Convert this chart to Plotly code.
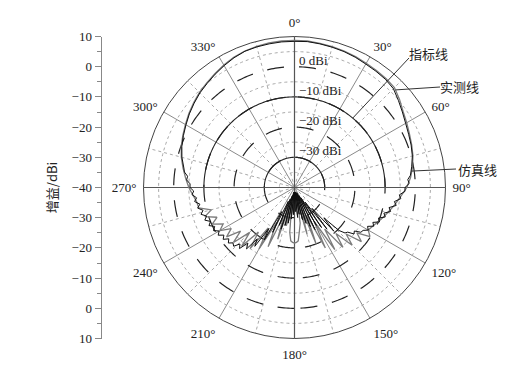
import numpy as np
import plotly.graph_objects as go

# ---------------- data ----------------
sim_theta = [0, 5, 10, 15, 20, 25, 30, 35, 40, 45, 50, 55, 60, 65, 70, 75, 80, 84, 86, 88, 90,
             92, 94, 96, 98, 100, 102, 104, 106, 108, 110, 112, 114, 116, 118, 120, 122, 124, 126, 128, 130, 132, 134,
             136, 138, 140, 142, 144, 146, 148, 150, 152, 154, 156, 158, 160, 162, 164, 166, 168, 170, 172, 174, 176,
             178, 180, 182, 184, 186, 188, 190, 192, 194, 196, 198, 200, 202, 204, 206, 208, 210, 212, 214, 216, 218,
             220, 222, 224, 226, 228, 230, 232, 234, 236, 238, 240, 242, 244, 246, 248, 250, 252, 254, 256, 258, 260,
             262, 264, 266, 268, 270, 272, 274, 276, 278, 280, 285, 290, 295, 300, 305, 310, 315, 320, 325, 330, 335,
             340, 345, 350, 355, 360]
sim_gain = [8.4, 8.5, 8.3, 8.1, 7.9, 7.6, 7.2, 7.0, 6.8, 6.3, 4.9, 3.6, 2.5, 1.7, 1.1, 0.4, -0.6, -1.4, -2.4, -2.0, -3.4,
            -3.4, -5.2, -4.6, -6.6, -5.8, -8.0, -7.2, -9.2, -8.4, -10.4, -9.6, -11.6, -10.8, -12.6, -11.8, -13.2, -13.5, -15.5, -15.0, -17.0, -17.5, -19.5,
            -26, -20.5, -31, -22.5, -34, -24, -36, -25.5, -37, -24.5, -38, -26, -37.5, -27.5, -38.5, -29, -38, -31, -38.5, -30, -38,
            -32, -38.5, -31, -38, -29.5, -38.5, -28, -37.5, -27, -37, -25.5, -36, -26.5, -35, -23.5, -31, -20, -24, -16.5, -19, -14.2,
            -16, -12.8, -14, -12.0, -12.6, -11.4, -12.4, -10.8, -11.8, -10.2, -11.2, -9.6, -10.6, -9.0, -10.0, -8.4, -9.4, -7.8, -8.8, -7.2, -8.2,
            -6.6, -7.4, -6.0, -6.6, -5.4, -5.4, -4.2, -4.4, -3.2, -2.8, -1.4, -0.3, 0.6, 1.5, 2.5, 3.4, 4.3, 5.0, 5.8, 6.6, 7.4,
            8.0, 8.2, 8.3, 8.4, 8.4]

meas_theta = [0, 5, 10, 15, 20, 25, 30, 35, 40, 45, 50, 55, 60, 65, 70, 75, 80, 85, 90, 95, 100, 105, 110, 115, 120,
              123, 126, 129, 132, 135, 138, 141, 144, 147, 150, 153, 156, 159, 162, 165, 168, 171, 174, 176, 178, 180,
              182, 184, 186, 189, 192, 195, 198, 201, 204, 207, 210, 213, 216, 219, 222, 225, 228, 231, 234, 237, 240,
              243, 246, 249, 252, 255, 258, 262, 266, 270, 275, 280, 285, 290, 295, 300, 305, 310, 315, 320, 325, 330,
              335, 340, 345, 350, 355, 360]
meas_gain = [8.7, 8.7, 8.5, 8.3, 8.1, 7.8, 7.5, 7.3, 7.1, 6.8, 5.4, 3.9, 2.9, 2.0, 1.3, 0.6, -0.3, -1.4, -2.8, -4.8, -6.4, -8.0, -9.4, -10.8, -11.8,
             -10.2, -14.5, -11.5, -17, -13.0, -19.5, -14.5, -23, -15.5, -27, -17.5, -30, -20, -33, -24, -35, -28, -25, -22.3, -21.8, -21.6,
             -21.8, -22.3, -25, -34, -27, -33, -22, -30, -18.5, -27, -16.5, -24, -15, -21, -13.8, -19, -12.8, -17, -12.2, -15, -11.5,
             -13.5, -10.2, -12.5, -8.8, -11.5, -7.6, -7.2, -6.2, -5.0, -3.8, -2.5, -1.2, -0.1, 0.8, 1.7, 2.7, 3.6, 4.5, 5.2, 6.0, 6.8,
             7.6, 8.1, 8.4, 8.6, 8.7, 8.7]

angle_ticks = list(range(0, 360, 30))
angle_labels = [f"{a}°" for a in angle_ticks]
major_levels = [-30, -20, -10, 0]          # black long-dash rings
minor_levels = [-35, -25, -15, -5, 5]      # grey short-dash rings
spec_levels = [-10, -30]                   # solid front-half rings (指标线)
level_labels = ["−30 dBi", "−20 dBi", "−10 dBi", "0 dBi"]
sub_spokes = list(range(15, 360, 30))      # grey dashed spokes
left_vals = list(range(-50, 51, 10))
left_text = [str(-40 + abs(v)).replace("-", "−") for v in left_vals]
left_minor = list(range(-45, 50, 10))

R_MIN, R_MAX = -40, 10

# ---------------- geometry ----------------
W, H = 518, 371
CX, CY, RAD = 294.5, 187.5, 151.0
dom_x = [(CX - RAD) / W, (CX + RAD) / W]
dom_y = [1 - (CY + RAD) / H, 1 - (CY - RAD) / H]


def to_paper(theta, r):
    rr = (r - R_MIN) / (R_MAX - R_MIN) * RAD
    t = np.radians(theta)
    return (CX + rr * np.sin(t)) / W, 1 - (CY - rr * np.cos(t)) / H


SERIF = "Liberation Serif, Times New Roman, serif"
CJK = "Noto Sans CJK SC, sans-serif"

fig = go.Figure()
full = np.arange(0, 361, 1)
front = np.arange(-90, 91, 1)

for lv in minor_levels:
    fig.add_trace(go.Scatterpolar(r=[lv] * len(full), theta=full, mode="lines",
                                  line=dict(color="#a8a8a8", width=1, dash="3px,3px"), hoverinfo="skip"))
for a in sub_spokes:
    fig.add_trace(go.Scatterpolar(r=[R_MIN, R_MAX], theta=[a, a], mode="lines",
                                  line=dict(color="#a8a8a8", width=1, dash="3px,3px"), hoverinfo="skip"))
for lv in major_levels:
    fig.add_trace(go.Scatterpolar(r=[lv] * len(full), theta=full + 180, mode="lines",
                                  line=dict(color="#222222", width=1.2, dash="17px,15px"), hoverinfo="skip"))
for lv in spec_levels:
    fig.add_trace(go.Scatterpolar(r=[lv] * len(front), theta=front, mode="lines",
                                  line=dict(color="#222222", width=1.1), hoverinfo="skip"))
# main cross axes
fig.add_trace(go.Scatterpolar(r=[R_MAX, R_MIN, R_MAX], theta=[0, 0, 180], mode="lines",
                              line=dict(color="#555555", width=1.2), hoverinfo="skip"))
fig.add_trace(go.Scatterpolar(r=[R_MAX, R_MIN, R_MAX], theta=[90, 90, 270], mode="lines",
                              line=dict(color="#555555", width=1.2), hoverinfo="skip"))

# patterns
fig.add_trace(go.Scatterpolar(r=meas_gain, theta=meas_theta, mode="lines", name="实测线",
                              line=dict(color="#7c7c7c", width=1.3)))
fig.add_trace(go.Scatterpolar(r=sim_gain, theta=sim_theta, mode="lines", name="仿真线",
                              line=dict(color="#111111", width=1)))

# left gain axis (diameter scale)
fig.add_trace(go.Scatter(x=[0], y=[0], mode="markers", marker=dict(opacity=0), xaxis="x", yaxis="y",
                         hoverinfo="skip"))

shapes = []
annotations = []

# level labels next to the vertical axis
for lv, txt in zip(major_levels, level_labels):
    px, py = to_paper(0, lv + 2.2)
    annotations.append(dict(text=txt, x=px, y=py, xref="paper", yref="paper", showarrow=False,
                            xanchor="left", yanchor="middle", xshift=2,
                            font=dict(family=SERIF, size=13, color="#222222")))

# leader lines + labels
callouts = [
    ("指标线", 40, -10, (428, 54), (409, 58)),
    ("实测线", 46, float(np.interp(46, meas_theta, meas_gain)), (459, 86), (440, 87)),
    ("仿真线", 82, float(np.interp(82, sim_theta, sim_gain)), (477, 169), (456, 169)),
]
for txt, th, rv, (tx, ty), (sx, sy) in callouts:
    px, py = to_paper(th, rv)
    shapes.append(dict(type="line", xref="paper", yref="paper", x0=sx / W, y0=1 - sy / H, x1=px, y1=py,
                       line=dict(color="#333333", width=1)))
    annotations.append(dict(text=txt, x=tx / W, y=1 - ty / H, xref="paper", yref="paper", showarrow=False,
                            font=dict(family=CJK, size=13, color="#222222"), xanchor="center", yanchor="middle"))

fig.update_layout(
    width=W, height=H, margin=dict(l=0, r=0, t=0, b=0, autoexpand=False),
    paper_bgcolor="white", plot_bgcolor="white", showlegend=False,
    polar=dict(
        domain=dict(x=dom_x, y=dom_y), bgcolor="white",
        radialaxis=dict(range=[R_MIN, R_MAX], showgrid=False, showline=False, showticklabels=False, ticks=""),
        angularaxis=dict(rotation=90, direction="clockwise", tickmode="array", tickvals=angle_ticks,
                         ticktext=angle_labels, showgrid=True, gridcolor="#8a8a8a", gridwidth=1,
                         showline=True, linecolor="#444444", linewidth=1,
                         ticks="outside", ticklen=4, tickcolor="rgba(0,0,0,0)",
                         tickfont=dict(family=SERIF, size=13, color="#222222")),
    ),
    xaxis=dict(domain=[101.5 / W, 110 / W], range=[0, 1], visible=False),
    yaxis=dict(domain=dom_y, range=[-50, 50], anchor="x", side="left", tickmode="array", automargin=False,
               tickvals=left_vals, ticktext=left_text, ticks="outside", ticklen=6, tickcolor="#888888",
               showline=True, linecolor="#888888", linewidth=1, showgrid=False, zeroline=False,
               tickfont=dict(family=SERIF, size=13, color="#222222"),
               minor=dict(tickvals=left_minor, ticks="outside", ticklen=4, tickcolor="#888888"),
               title=dict(text="增益/dBi", font=dict(family=CJK, size=13, color="#222222"), standoff=11)),
    shapes=shapes, annotations=annotations,
)

fig.write_html("out.html")
